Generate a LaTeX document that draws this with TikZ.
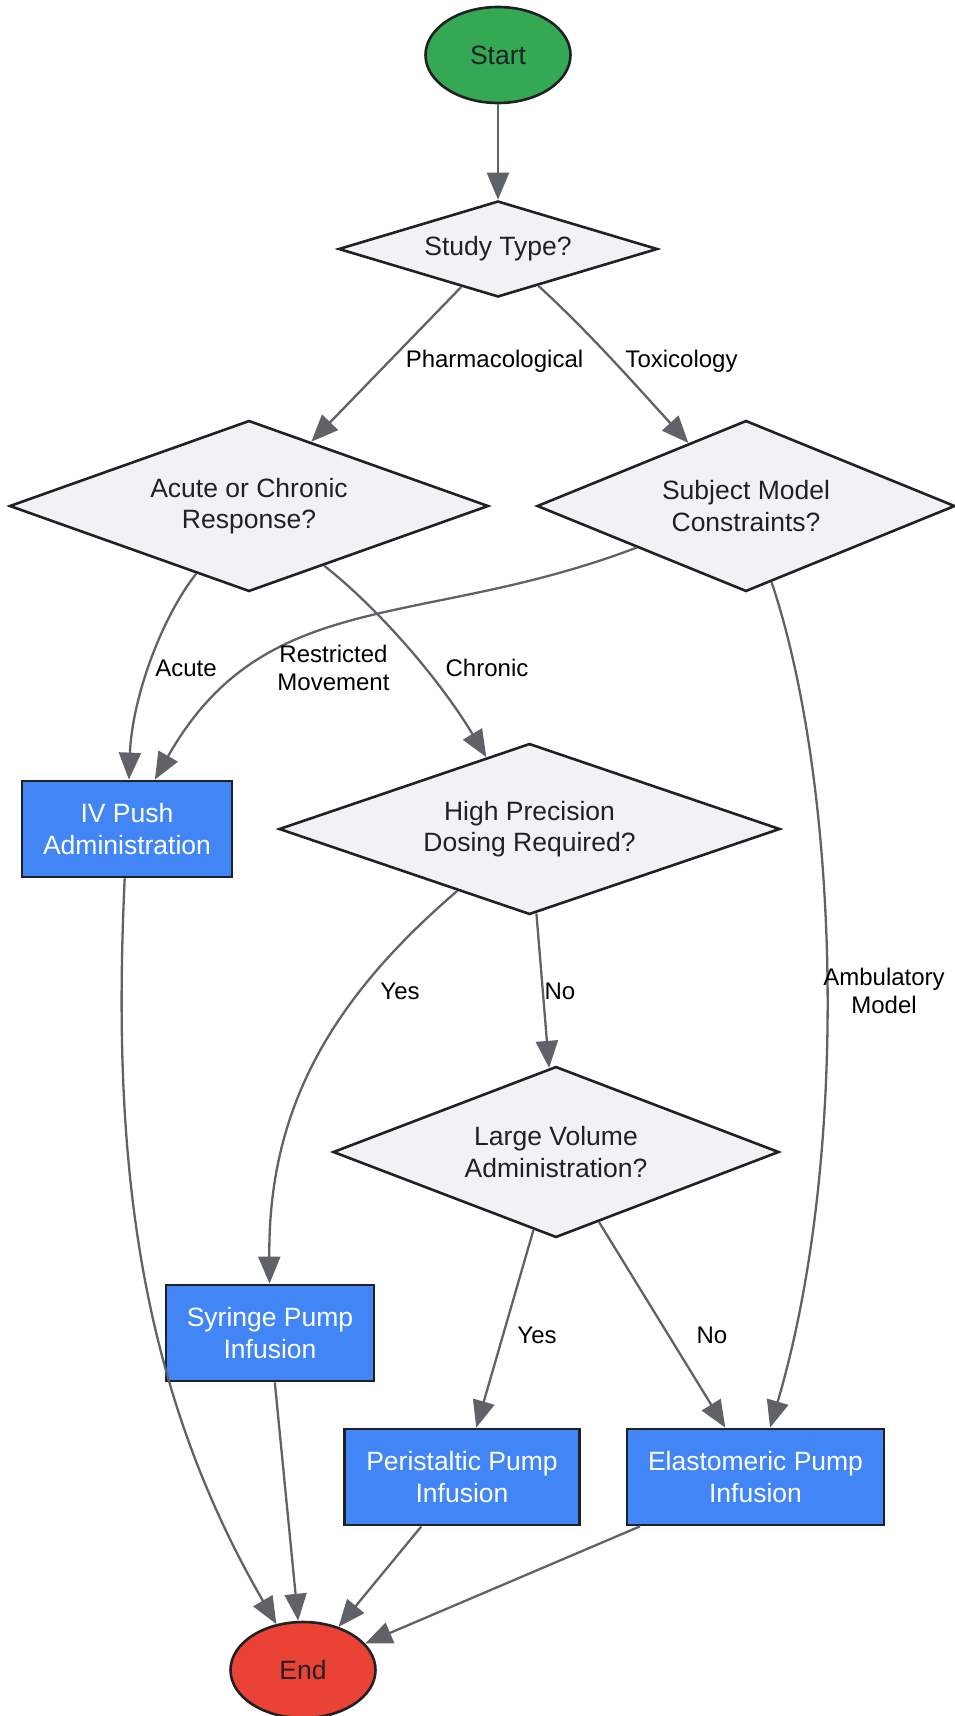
\documentclass[tikz,border=0pt]{standalone}
\usepackage{fontspec}
\setmainfont{Liberation Sans}
\usetikzlibrary{shapes.geometric,arrows.meta}
\definecolor{startgreen}{HTML}{34A853}
\definecolor{endred}{HTML}{EA4335}
\definecolor{stepblue}{HTML}{4285F4}
\definecolor{askgray}{HTML}{F1F2F4}
\definecolor{linegray}{HTML}{5F6368}
\definecolor{inkdark}{HTML}{202124}
\newcommand{\flowfont}{\fontsize{26.5}{31.7}\selectfont}
\newcommand{\tagfont}{\fontsize{24}{28.4}\selectfont}

\begin{document}
\begin{tikzpicture}[x=1pt,y=-1pt,
    terminal/.style={ellipse,draw=inkdark,line width=2.6pt,minimum width=145pt,minimum height=96pt,inner sep=0pt,text=inkdark,font=\flowfont},
    question/.style={diamond,draw=inkdark,fill=askgray,line width=2.6pt,aspect=2.8,inner sep=0pt,align=center,text=inkdark,font=\flowfont},
    action/.style={rectangle,draw=inkdark,fill=stepblue,line width=2.8pt,minimum height=96pt,inner sep=0pt,align=center,text=white,font=\flowfont},
    flow/.style={draw=linegray,line width=2.3pt,-{Triangle[length=27pt,width=22pt]}},
    tag/.style={align=center,text=black,font=\tagfont,inner sep=0pt}]
  \useasboundingbox (0,0) rectangle (954,1716);

  \node[terminal,fill=startgreen] (start) at (498,55) {Start};
  \node[question,minimum width=319pt,minimum height=96pt] (study) at (498,249) {Study Type?};
  \node[question,minimum width=479pt,minimum height=171pt] (acute) at (249,506) {Acute or Chronic\\Response?};
  \node[question,minimum width=418pt,minimum height=171pt] (subject) at (746,506) {Subject Model\\Constraints?};
  \node[action,minimum width=210pt] (ivpush) at (127,829) {IV Push\\Administration};
  \node[question,minimum width=501pt,minimum height=171pt] (precision) at (529.5,829) {High Precision\\Dosing Required?};
  \node[question,minimum width=446pt,minimum height=171pt] (volume) at (556,1152) {Large Volume\\Administration?};
  \node[action,minimum width=208pt] (syringe) at (270,1333) {Syringe Pump\\Infusion};
  \node[action,minimum width=235pt] (peristaltic) at (462,1477) {Peristaltic Pump\\Infusion};
  \node[action,minimum width=257pt] (elastomeric) at (755.5,1477) {Elastomeric Pump\\Infusion};
  \node[terminal,fill=endred] (finish) at (303,1670) {End};

  \draw[flow] (start) -- (study);
  \draw[flow] (study) -- (acute);
  \draw[flow] (study) .. controls (590,333) and (640,390) .. (subject);
  \draw[flow] (acute) .. controls (160,620) and (132,700) .. (ivpush);
  \draw[flow] (acute) .. controls (380,610) and (440,680) .. (precision);
  \draw[flow] (subject) .. controls (420,630) and (265,585) .. (ivpush);
  \draw[flow] (subject) .. controls (838,780) and (852,1150) .. (elastomeric);
  \draw[flow] (precision) .. controls (330,1000) and (268,1110) .. (syringe);
  \draw[flow] (precision) -- (volume);
  \draw[flow] (volume) -- (peristaltic);
  \draw[flow] (volume) -- (elastomeric);
  \draw[flow] (ivpush) .. controls (112,1150) and (135,1380) .. (finish);
  \draw[flow] (syringe) -- (finish);
  \draw[flow] (peristaltic) -- (finish);
  \draw[flow] (elastomeric) -- (finish);

  \node[tag] (pharma) at (494.5,361) {Pharmacological};
  \node[tag] (toxic) at (681.5,361) {Toxicology};
  \node[tag] (acutetag) at (186,668) {Acute};
  \node[tag] (restricted) at (333.5,668) {Restricted\\Movement};
  \node[tag] (chronic) at (487,668) {Chronic};
  \node[tag] (precyes) at (400,991) {Yes};
  \node[tag] (precno) at (560,991) {No};
  \node[tag] (ambulatory) at (884,991) {Ambulatory\\Model};
  \node[tag] (volyes) at (537,1335) {Yes};
  \node[tag] (volno) at (712,1335) {No};
\end{tikzpicture}
\end{document}
